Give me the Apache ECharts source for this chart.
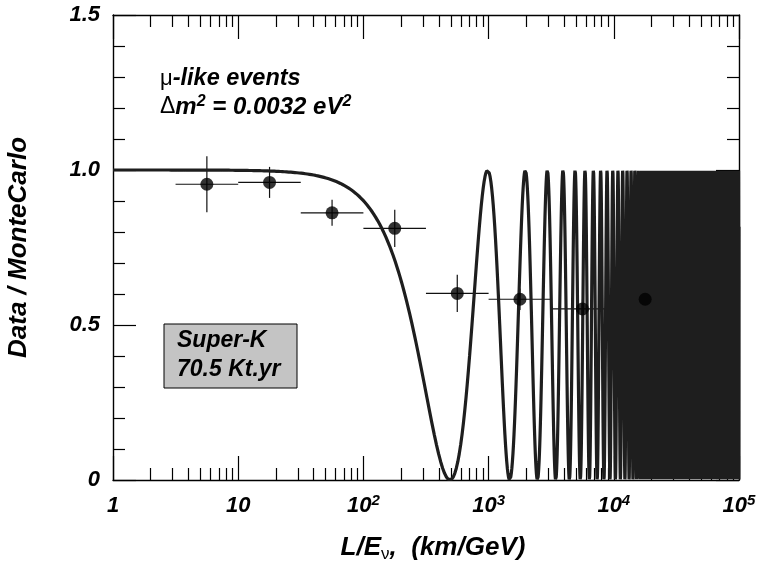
<!DOCTYPE html>
<html>
<head>
<meta charset="utf-8">
<script src="https://cdn.jsdelivr.net/npm/echarts@6/dist/echarts.min.js"></script>
<style>
html,body{margin:0;padding:0;background:#fff;}
#chart{width:762px;height:577px;}
</style>
</head>
<body>
<div id="chart"></div>
<script>
// ---- data ----
const binCenters = [5.62, 17.8, 56.2, 178, 562, 1780, 5620, 17800];
const binLow     = [3.16, 10, 31.6, 100, 316, 1000, 3160, 10000];
const binHigh    = [10, 31.6, 100, 316, 1000, 3160, 10000, 31600];
const ratioValues = [0.954, 0.960, 0.862, 0.812, 0.602, 0.583, 0.552, 0.583];
const ratioErrors = [0.090, 0.050, 0.042, 0.060, 0.060, 0.035, 0.030, 0.030];

const xTickValues = [1, 10, 100, 1000, 10000, 100000];
const xTickLabels = ['1', '10', '10^2', '10^3', '10^4', '10^5'];
const xMinorTicks = [];
for (const d of [1, 10, 100, 1000, 10000]) for (let m = 2; m <= 9; m++) xMinorTicks.push(d * m);
const yTickValues = [0, 0.5, 1.0, 1.5];
const yTickLabels = ['0', '0.5', '1.0', '1.5'];

// oscillation model shown in the chart: Δm² = 0.0032 eV², full mixing
const DM2 = 0.0032;
const PHASE_COEF = 1.0; // first minimum of the drawn curve sits at L/E ≈ 490 km/GeV
function survival(le) { const s = Math.sin(PHASE_COEF * DM2 * le); return 1 - s * s; }
const curve = [];
for (let i = 0; i <= 300; i++) { const x = Math.pow(10, i / 300 * Math.log10(300)); curve.push([x, survival(x)]); }
const period = Math.PI / (PHASE_COEF * DM2);
const step = period / 64;
for (let x = Math.ceil(300 / step) * step; x <= 100000; x += step) curve.push([x, survival(x)]);
curve.push([100000, survival(100000)]);

const FONT = '"Liberation Sans", Arial, Helvetica, sans-serif';
const chart = echarts.init(document.getElementById('chart'), null, {renderer: 'canvas'});

function xLabelFmt(v) {
  const i = xTickValues.findIndex(t => Math.abs(t - v) / t < 1e-6);
  const lab = i >= 0 ? xTickLabels[i] : '';
  if (lab.indexOf('^') >= 0) { const p = lab.split('^'); return '{n|' + p[0] + '}{s|' + p[1] + '}'; }
  return '{n|' + lab + '}';
}
function yLabelFmt(v) {
  const i = yTickValues.findIndex(t => Math.abs(t - v) < 1e-6);
  return i >= 0 ? yTickLabels[i] : '';
}

const axisLineStyle = {color: '#000', width: 1.4};
const tickStyle = {color: '#000', width: 1.2};
const baseLog = {type: 'log', logBase: 10, min: 1, max: 100000, splitLine: {show: false}, gridIndex: 0};

const option = {
  animation: false,
  backgroundColor: '#fff',
  grid: {left: 113, right: 23, top: 15, bottom: 97, containLabel: false, outerBoundsMode: 'none'},
  xAxis: [
    Object.assign({}, baseLog, {
      position: 'bottom',
      axisLine: {show: true, lineStyle: axisLineStyle},
      axisTick: {show: true, inside: true, length: 24, customValues: xTickValues, lineStyle: tickStyle},
      axisLabel: {
        show: true, customValues: xTickValues, margin: 13, formatter: xLabelFmt,
        rich: {
          n: {fontFamily: FONT, fontSize: 22, fontWeight: 'bold', fontStyle: 'italic', color: '#000', lineHeight: 26},
          s: {fontFamily: FONT, fontSize: 15, fontWeight: 'bold', fontStyle: 'italic', color: '#000', lineHeight: 15, verticalAlign: 'top'}
        }
      },
      name: '{b|L/E}{sub|ν}{b|,  (km/GeV)}',
      nameLocation: 'middle',
      nameGap: 53,
      nameTextStyle: {
        padding: [0, 0, 0, 14],
        rich: {
          b: {fontFamily: FONT, fontSize: 26, fontWeight: 'bold', fontStyle: 'italic', color: '#000', lineHeight: 30},
          sub: {fontFamily: FONT, fontSize: 17, fontWeight: 'normal', color: '#000', lineHeight: 17, verticalAlign: 'bottom'}
        }
      }
    }),
    Object.assign({}, baseLog, {
      position: 'bottom',
      axisLine: {show: false},
      axisTick: {show: true, inside: true, length: 12, customValues: xMinorTicks, lineStyle: tickStyle},
      axisLabel: {show: false}
    }),
    Object.assign({}, baseLog, {
      position: 'top',
      axisLine: {show: true, lineStyle: axisLineStyle},
      axisTick: {show: true, inside: true, length: 24, customValues: xTickValues, lineStyle: tickStyle},
      axisLabel: {show: false}
    }),
    Object.assign({}, baseLog, {
      position: 'top',
      axisLine: {show: false},
      axisTick: {show: true, inside: true, length: 12, customValues: xMinorTicks, lineStyle: tickStyle},
      axisLabel: {show: false}
    })
  ],
  yAxis: [
    {
      type: 'value', min: 0, max: 1.5, interval: 0.5, position: 'left',
      axisLine: {show: true, lineStyle: axisLineStyle},
      axisTick: {show: true, inside: true, length: 23, lineStyle: tickStyle},
      minorTick: {show: true, splitNumber: 5, length: 12, lineStyle: tickStyle},
      splitLine: {show: false},
      axisLabel: {margin: 13, formatter: yLabelFmt, fontFamily: FONT, fontSize: 22, fontWeight: 'bold', fontStyle: 'italic', color: '#000'},
      name: 'Data / MonteCarlo',
      nameLocation: 'middle',
      nameGap: 81,
      nameTextStyle: {fontFamily: FONT, fontSize: 26, fontWeight: 'bold', fontStyle: 'italic', color: '#000'}
    },
    {
      type: 'value', min: 0, max: 1.5, interval: 0.5, position: 'right',
      axisLine: {show: true, lineStyle: axisLineStyle},
      axisTick: {show: true, inside: true, length: 23, lineStyle: tickStyle},
      minorTick: {show: true, splitNumber: 5, length: 12, lineStyle: tickStyle},
      splitLine: {show: false},
      axisLabel: {show: false}
    }
  ],
  series: [
    {
      name: 'errors', type: 'custom', xAxisIndex: 0, yAxisIndex: 0, z: 1, silent: true,
      data: binCenters.map((c, i) => [c, ratioValues[i], binLow[i], binHigh[i], ratioErrors[i]]),
      renderItem: function (params, api) {
        const xc = api.value(0), y = api.value(1), xl = api.value(2), xh = api.value(3), e = api.value(4);
        const pL = api.coord([xl, y]), pR = api.coord([xh, y]);
        const pT = api.coord([xc, y + e]), pB = api.coord([xc, y - e]);
        const st = {stroke: '#111', lineWidth: 1.2};
        return {type: 'group', children: [
          {type: 'line', shape: {x1: pL[0], y1: pL[1], x2: pR[0], y2: pR[1]}, style: st},
          {type: 'line', shape: {x1: pT[0], y1: pT[1], x2: pB[0], y2: pB[1]}, style: st}
        ]};
      }
    },
    {
      name: 'oscillation', type: 'line', xAxisIndex: 0, yAxisIndex: 0,
      data: curve, showSymbol: false, symbol: 'none', silent: true,
      lineStyle: {color: '#1e1e1e', width: 3.2}, z: 2, clip: true
    },
    {
      name: 'data', type: 'scatter', xAxisIndex: 0, yAxisIndex: 0, z: 4, silent: true,
      data: binCenters.map((c, i) => [c, ratioValues[i]]),
      symbol: 'circle', symbolSize: 13, itemStyle: {color: '#000'}
    }
  ],
  graphic: [
    {type: 'rect', shape: {x: 164, y: 324, width: 133, height: 64}, style: {fill: '#c4c4c4', stroke: '#000', lineWidth: 1}, z: 10},
    {type: 'text', x: 177, y: 341, z: 11, style: {text: 'Super-K', font: 'italic bold 23px ' + FONT, fill: '#000', verticalAlign: 'middle'}},
    {type: 'text', x: 177, y: 370, z: 11, style: {text: '70.5 Kt.yr', font: 'italic bold 23px ' + FONT, fill: '#000', verticalAlign: 'middle'}},
    {type: 'text', x: 160, y: 78.5, z: 11, style: {
      text: '{g|μ}{b|-like events}', verticalAlign: 'middle',
      rich: {
        g: {fontFamily: FONT, fontSize: 22, fontWeight: 'normal', fill: '#000', lineHeight: 26},
        b: {fontFamily: FONT, fontSize: 23.5, fontWeight: 'bold', fontStyle: 'italic', fill: '#000', lineHeight: 26}
      }}},
    {type: 'text', x: 160, y: 107, z: 11, style: {
      text: '{g|Δ}{b|m}{s|2}{b| = 0.0032 eV}{s|2}', verticalAlign: 'middle',
      rich: {
        g: {fontFamily: FONT, fontSize: 23, fontWeight: 'normal', fill: '#000', lineHeight: 26},
        b: {fontFamily: FONT, fontSize: 24, fontWeight: 'bold', fontStyle: 'italic', fill: '#000', lineHeight: 26},
        s: {fontFamily: FONT, fontSize: 16, fontWeight: 'bold', fontStyle: 'italic', fill: '#000', lineHeight: 16, verticalAlign: 'top'}
      }}}
  ]
};
chart.setOption(option);
</script>
</body>
</html>
